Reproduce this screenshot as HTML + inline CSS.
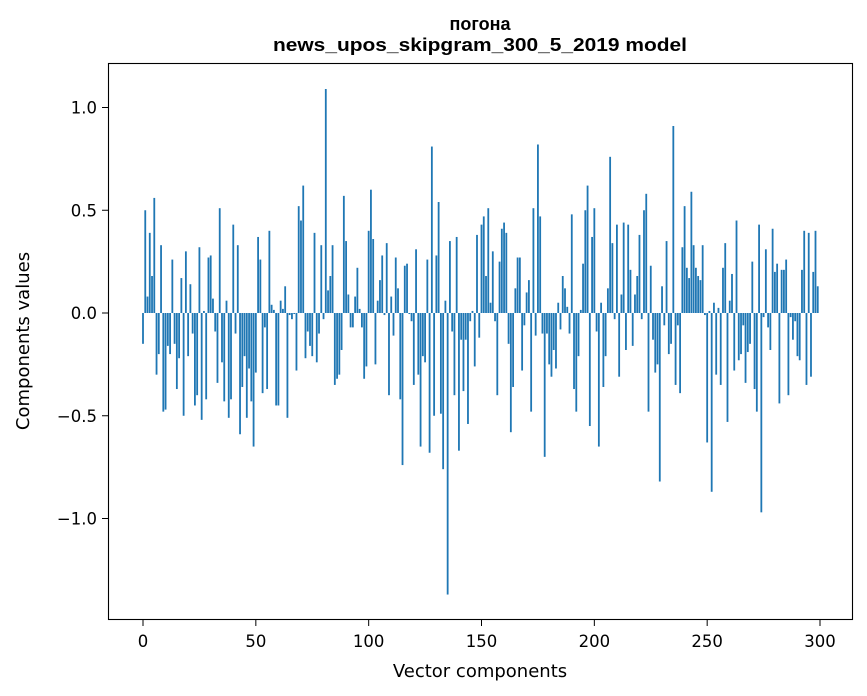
<!DOCTYPE html>
<html><head><meta charset="utf-8"><style>
body{margin:0;background:#fff;}
svg{display:block;font-family:"DejaVu Sans","Liberation Sans",sans-serif;}
</style></head><body>
<svg id="chart" width="867" height="696" viewBox="0 0 867 696">
<rect width="867" height="696" fill="#fff"/>
<text x="480" y="30" text-anchor="middle" font-size="18" font-weight="bold" font-family="Liberation Sans, sans-serif" fill="#000">погона</text>
<text x="480" y="51" text-anchor="middle" font-size="18" font-weight="bold" font-family="Liberation Sans, sans-serif" textLength="414" lengthAdjust="spacingAndGlyphs" fill="#000">news_upos_skipgram_300_5_2019 model</text>
<g id="bars"></g>
<g id="xticks"></g>
<g id="yticks"></g>
<rect x="108.5" y="63.5" width="744" height="556" fill="none" stroke="#000" stroke-width="1.1"/>
<text x="480" y="677" text-anchor="middle" font-size="18" fill="#000">Vector components</text>
<text transform="translate(29,341) rotate(-90)" text-anchor="middle" font-size="18" fill="#000">Components values</text>
</svg>
<script>
const values = [
-0.15,0.50,0.08,0.39,0.18,0.56,-0.30,-0.20,0.33,-0.48,
-0.47,-0.16,-0.20,0.26,-0.15,-0.37,-0.22,0.17,-0.50,0.30,
-0.21,0.14,-0.10,-0.45,-0.40,0.32,-0.52,0.01,-0.42,0.27,
0.28,0.07,-0.09,-0.34,0.51,-0.24,-0.43,0.06,-0.51,-0.42,
0.43,-0.10,0.33,-0.59,-0.36,-0.21,-0.51,-0.27,-0.43,-0.65,
-0.29,0.37,0.26,-0.39,-0.07,-0.37,0.40,0.04,0.015,-0.45,
-0.45,0.06,0.02,0.13,-0.51,-0.01,-0.03,-0.005,-0.28,0.52,
0.45,0.62,-0.22,-0.09,-0.16,-0.21,0.39,-0.24,-0.10,0.33,
-0.03,1.09,0.11,0.18,0.33,-0.35,-0.32,-0.30,-0.18,0.57,
0.35,0.09,-0.07,-0.07,0.08,0.22,0.02,-0.07,-0.32,-0.26,
0.40,0.60,0.36,-0.25,0.06,0.16,0.28,-0.01,0.34,-0.40,
0.08,-0.11,0.27,0.12,-0.42,-0.74,0.23,0.24,-0.005,-0.04,
-0.35,0.31,-0.30,-0.65,-0.21,-0.24,0.26,-0.68,0.81,-0.50,
0.28,0.54,-0.49,-0.76,0.06,-1.37,0.35,-0.09,-0.40,0.37,
-0.67,-0.13,-0.38,-0.13,-0.54,-0.04,0.01,-0.26,0.38,-0.12,
0.43,0.47,0.18,0.51,0.05,0.30,-0.04,-0.40,0.25,0.41,
0.44,0.39,-0.15,-0.58,-0.36,0.12,0.27,0.27,-0.28,-0.06,
0.10,0.16,-0.48,0.51,-0.11,0.82,0.47,-0.10,-0.70,-0.10,
-0.25,-0.31,-0.18,-0.27,0.05,-0.08,0.18,0.12,0.03,-0.10,
0.48,-0.37,-0.48,-0.21,0.015,0.24,0.50,0.62,-0.55,0.37,
0.51,-0.09,-0.65,0.05,-0.36,-0.21,0.12,0.76,0.34,-0.03,
0.43,-0.31,0.09,0.44,-0.18,0.43,0.21,-0.16,0.09,0.18,
0.38,-0.03,0.50,0.58,-0.48,0.23,-0.13,-0.29,-0.25,-0.82,
0.13,-0.06,0.35,-0.20,-0.15,0.91,-0.35,-0.06,-0.39,0.32,
0.52,0.22,0.17,0.59,0.33,0.22,0.18,0.16,0.33,-0.01,
-0.63,0.01,-0.87,0.05,-0.30,0.025,-0.35,0.22,0.34,-0.53,
0.06,0.19,-0.28,0.45,-0.23,-0.20,-0.06,-0.34,-0.19,-0.15,
0.25,-0.37,-0.48,0.43,-0.97,-0.02,0.31,-0.07,-0.18,0.41,
0.20,0.24,-0.44,0.21,0.21,0.26,-0.40,-0.02,-0.13,-0.04,
-0.21,-0.23,0.21,0.40,-0.35,0.39,-0.31,0.20,0.40,0.13
];
const xTicks = [0,50,100,150,200,250,300];
const yTicks = [1.0,0.5,0.0,-0.5,-1.0];
const yTickLabels = ["1.0","0.5","0.0","\u22120.5","\u22121.0"];

const NS="http://www.w3.org/2000/svg";
const xScale = v => 143 + (v)*2.2567;
const yScale = v => 313 - v*205.5;
const bw = 0.8*2.2567;
const gb=document.getElementById('bars');
values.forEach((v,i)=>{
  const r=document.createElementNS(NS,'rect');
  
  
  const y0=yScale(0), y1=yScale(v);
  r.setAttribute('x',xScale(i)-bw/2);
  r.setAttribute('y',Math.min(y0,y1));
  r.setAttribute('width',bw);
  r.setAttribute('height',Math.abs(y1-y0));
  r.setAttribute('fill','#1f77b4');
  gb.appendChild(r);
});
const gx=document.getElementById('xticks');
xTicks.forEach(t=>{
  const x=xScale(t);
  const l=document.createElementNS(NS,'line');
  
  
  l.setAttribute('x1',x);l.setAttribute('x2',x);l.setAttribute('y1',620);l.setAttribute('y2',626);
  l.setAttribute('stroke','#000');
  gx.appendChild(l);
  const tx=document.createElementNS(NS,'text');
  
  
  tx.setAttribute('x',x);tx.setAttribute('y',647);
  tx.setAttribute('text-anchor','middle');tx.setAttribute('font-size','16.5');
  tx.textContent=t;
  gx.appendChild(tx);
});
const gy=document.getElementById('yticks');
yTicks.forEach((t,i)=>{
  const y=yScale(t);
  const l=document.createElementNS(NS,'line');
  
  
  l.setAttribute('x1',102);l.setAttribute('x2',108);l.setAttribute('y1',y);l.setAttribute('y2',y);
  l.setAttribute('stroke','#000');
  gy.appendChild(l);
  const tx=document.createElementNS(NS,'text');
  
  
  tx.setAttribute('x',97);tx.setAttribute('y',y+6);
  tx.setAttribute('text-anchor','end');tx.setAttribute('font-size','16.5');
  tx.textContent=yTickLabels[i];
  gy.appendChild(tx);
});
</script>
</body></html>
